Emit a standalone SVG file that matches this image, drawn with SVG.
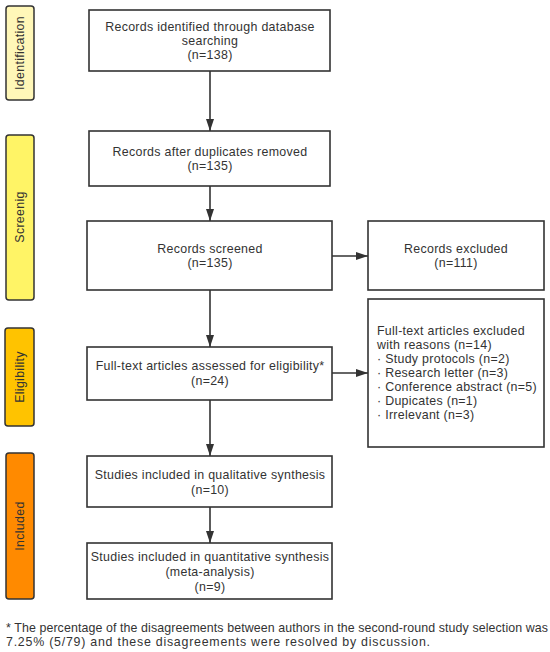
<svg xmlns="http://www.w3.org/2000/svg" width="550" height="652" viewBox="0 0 550 652">
<defs>
<marker id="ah" viewBox="0 0 12 8" refX="12" refY="4" markerWidth="12" markerHeight="8" markerUnits="userSpaceOnUse" orient="auto">
<path d="M0,0 L12,4 L0,8 Z" fill="#333"/>
</marker>
</defs>
<style>
text{font-family:"Liberation Sans",Arial,sans-serif;font-size:12.4px;fill:#333;letter-spacing:0.3px}
.box{fill:#fff;stroke:#333;stroke-width:1.6}
.phase{stroke:#333;stroke-width:1.5}
.c{text-anchor:middle}
.conn line{stroke:#333;stroke-width:1.6;marker-end:url(#ah)}
#footnote text{letter-spacing:0}
</style>
<rect width="550" height="652" fill="#fff"/>
<g id="phase-identification"><rect class="phase" x="6" y="6" width="28" height="94" rx="3" fill="#fff7b8"/><text class="c" transform="translate(24,53) rotate(-90)">Identification</text></g>
<g id="phase-screening"><rect class="phase" x="6" y="135" width="28" height="165" rx="3" fill="#fff466"/><text class="c" transform="translate(24,217) rotate(-90)">Screenig</text></g>
<g id="phase-eligibility"><rect class="phase" x="5" y="328" width="29" height="98" rx="3" fill="#ffc300"/><text class="c" transform="translate(24,377) rotate(-90)">Eligibility</text></g>
<g id="phase-included"><rect class="phase" x="6" y="453" width="28" height="146" rx="3" fill="#ff8a00"/><text class="c" transform="translate(24,526) rotate(-90)">Included</text></g>

<g id="n1"><rect class="box" x="89" y="10" width="241" height="61"/><text class="c" x="210" y="31">Records identified through database</text><text class="c" x="210" y="45">searching</text><text class="c" x="210" y="59">(n=138)</text></g>
<g id="n2"><rect class="box" x="89" y="131" width="241" height="55"/><text class="c" x="210" y="156">Records after duplicates removed</text><text class="c" x="210" y="170">(n=135)</text></g>
<g id="n3"><rect class="box" x="87" y="221" width="245" height="69"/><text class="c" x="210" y="253">Records screened</text><text class="c" x="210" y="267">(n=135)</text></g>
<g id="n4"><rect class="box" x="368" y="221" width="176" height="69"/><text class="c" x="456" y="253">Records excluded</text><text class="c" x="456" y="267">(n=111)</text></g>
<g id="n5"><rect class="box" x="87" y="347" width="245" height="53"/><text class="c" x="210" y="370">Full-text articles assessed for eligibility*</text><text class="c" x="210" y="385">(n=24)</text></g>
<g id="n6"><rect class="box" x="368" y="299" width="176" height="148"/>
<text x="377" y="335">Full-text articles excluded</text>
<text x="377" y="349">with reasons (n=14)</text>
<text x="377" y="363">· Study protocols (n=2)</text>
<text x="377" y="377">· Research letter (n=3)</text>
<text x="377" y="391">· Conference abstract (n=5)</text>
<text x="377" y="405">· Dupicates (n=1)</text>
<text x="377" y="419">· Irrelevant (n=3)</text></g>
<g id="n7"><rect class="box" x="87" y="456" width="245" height="51"/><text class="c" x="210" y="479">Studies included in qualitative synthesis</text><text class="c" x="210" y="494">(n=10)</text></g>
<g id="n8"><rect class="box" x="87" y="543" width="245" height="56"/><text class="c" x="210" y="561">Studies included in quantitative synthesis</text><text class="c" x="210" y="576">(meta-analysis)</text><text class="c" x="210" y="591">(n=9)</text></g>

<g id="connectors" class="conn">
<line x1="210" y1="71" x2="210" y2="131"/>
<line x1="210" y1="186" x2="210" y2="221"/>
<line x1="210" y1="290" x2="210" y2="347"/>
<line x1="210" y1="400" x2="210" y2="456"/>
<line x1="210" y1="507" x2="210" y2="543"/>
<line x1="332" y1="256" x2="368" y2="256"/>
<line x1="332" y1="373" x2="368" y2="373"/>
</g>
<g id="footnote">
<text x="6" y="632" textLength="542" lengthAdjust="spacing">* The percentage of the disagreements between authors in the second-round study selection was</text>
<text x="6" y="646" textLength="424" lengthAdjust="spacing">7.25% (5/79) and these disagreements were resolved by discussion.</text>
</g>
</svg>
